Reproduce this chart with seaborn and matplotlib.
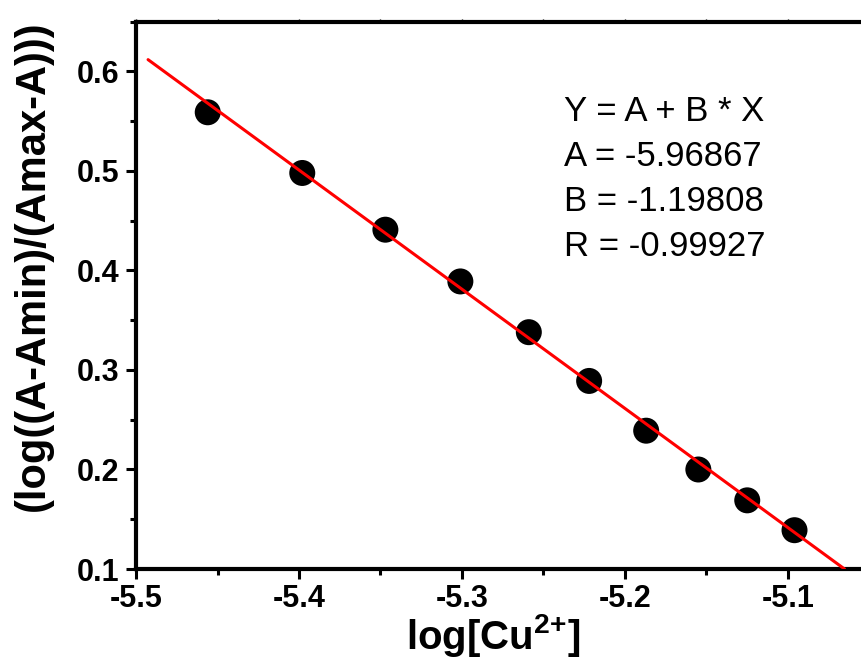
import numpy as np
import pandas as pd
import matplotlib
matplotlib.use("Agg")
import matplotlib.pyplot as plt
from matplotlib.ticker import MultipleLocator
import seaborn as sns

# Measured data: log of Cu2+ concentration vs. log((A-Amin)/(Amax-A))
log_cu = [-5.456, -5.398, -5.347, -5.301, -5.259, -5.222, -5.187, -5.155, -5.125, -5.096]
log_ratio = [0.559, 0.498, 0.441, 0.389, 0.338, 0.289, 0.239, 0.200, 0.169, 0.139]

# Linear fit parameters Y = A + B * X
fit_A = -5.96867
fit_B = -1.19808
fit_R = -0.99927
fit_x_range = [-5.4926, -5.0653]

x_ticks = [-5.5, -5.4, -5.3, -5.2, -5.1]
y_ticks = [0.1, 0.2, 0.3, 0.4, 0.5, 0.6]

sns.set_theme(style="ticks")
plt.rcParams["font.family"] = ["Liberation Sans", "DejaVu Sans"]
plt.rcParams["axes.unicode_minus"] = False
plt.rcParams["mathtext.fontset"] = "custom"
plt.rcParams["mathtext.rm"] = "Liberation Sans:bold"
plt.rcParams["mathtext.it"] = "Liberation Sans:bold"
plt.rcParams["mathtext.bf"] = "Liberation Sans:bold"
for key in ["text.color", "axes.labelcolor", "xtick.color", "ytick.color",
            "xtick.labelcolor", "ytick.labelcolor", "axes.edgecolor"]:
    plt.rcParams[key] = "black"

df = pd.DataFrame({"x": log_cu, "y": log_ratio})
fit_x = np.array(fit_x_range)
fit_df = pd.DataFrame({"x": fit_x, "y": fit_A + fit_B * fit_x})

fig = plt.figure(figsize=(8.61, 6.62), dpi=100)
ax = fig.add_axes([0.15796, 0.14048, 0.8519, 0.8267])

sns.scatterplot(data=df, x="x", y="y", ax=ax, s=350, color="black",
                edgecolor="none", zorder=3, legend=False)
sns.lineplot(data=fit_df, x="x", y="y", ax=ax, color="red", linewidth=2.2,
             zorder=4, legend=False)

ax.set_xlim(-5.5, -5.05)
ax.set_ylim(0.1, 0.65)
ax.set_xticks(x_ticks)
ax.set_yticks(y_ticks)
ax.set_xticklabels([f"{v:.1f}" for v in x_ticks])
ax.set_yticklabels([f"{v:.1f}" for v in y_ticks])
ax.xaxis.set_minor_locator(MultipleLocator(0.05))
ax.yaxis.set_minor_locator(MultipleLocator(0.05))

for side in ["left", "bottom", "top"]:
    ax.spines[side].set_linewidth(3.0)
    ax.spines[side].set_color("black")
ax.spines["right"].set_visible(False)

ax.tick_params(axis="both", which="major", direction="out", length=7,
               width=2.2, color="black", labelsize=22, labelcolor="black")
ax.tick_params(axis="both", which="minor", direction="out", length=4,
               width=2.2, color="black")
ax.tick_params(axis="x", which="major", pad=4)
ax.tick_params(axis="y", which="major", pad=5)
ax.tick_params(axis="x", which="both", top=True, labeltop=False)
for t in ax.xaxis.get_ticklines(minor=False)[1::2] + ax.xaxis.get_ticklines(minor=True)[1::2]:
    t.set_markersize(2.5)
    t.set_color("#aaaaaa")
    t.set_markeredgewidth(1.0)
for lab in ax.get_xticklabels() + ax.get_yticklabels():
    lab.set_fontweight("bold")

ax.set_xlabel(r"log[Cu$^{2{+}}$]", fontsize=29, fontweight="bold")
ax.set_ylabel("(log((A-Amin)/(Amax-A)))", fontsize=30, fontweight="bold",
              va="center")
ax.xaxis.set_label_coords(0.487, -0.079)
ax.yaxis.set_label_coords(-0.1404, 0.555)

fit_lines = [
    "Y = A + B * X",
    f"A = {fit_A:.5f}",
    f"B = {fit_B:.5f}",
    f"R = {fit_R:.5f}",
]
for i, line in enumerate(fit_lines):
    ax.text(0.5835, 0.8186 - i * 0.0822, line, transform=ax.transAxes,
            fontsize=25, ha="left", va="baseline", color="black")

fig.savefig("out.png", dpi=100)
